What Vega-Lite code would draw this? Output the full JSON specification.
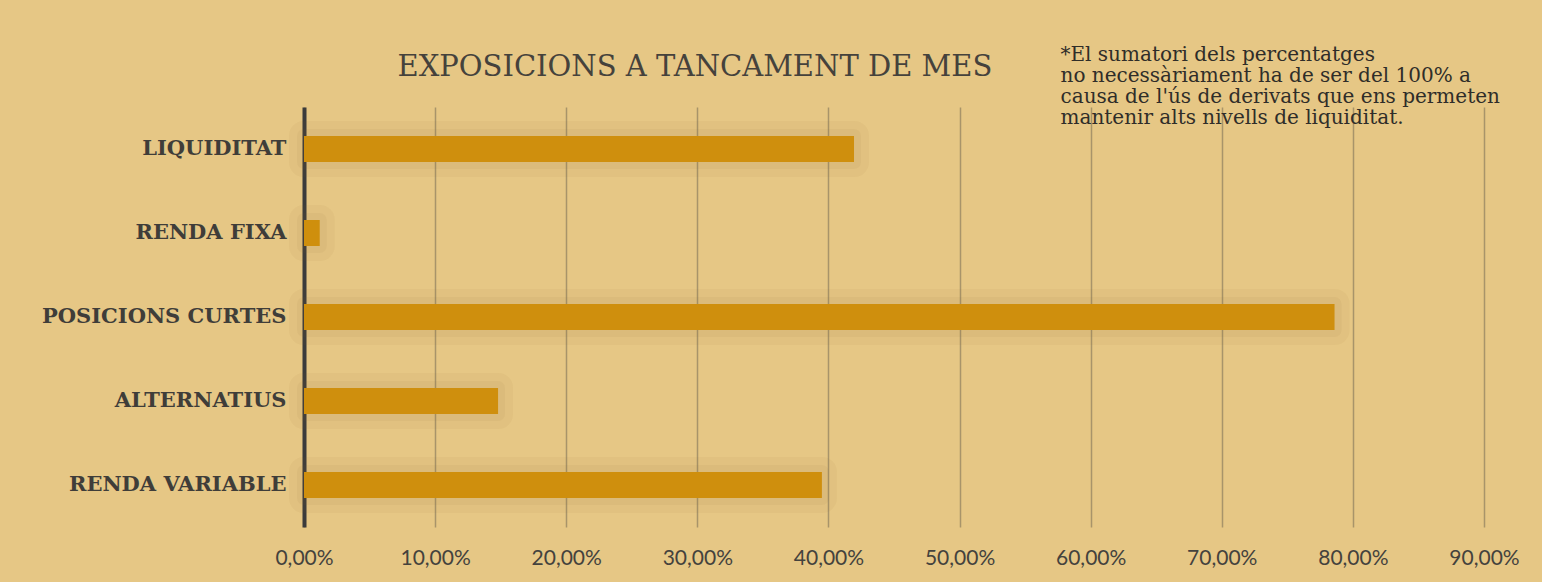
{
  "$schema": "https://vega.github.io/schema/vega-lite/v6.json",
  "width": 1180,
  "height": 420,
  "autosize": {"type": "none"},
  "padding": {"left": 304, "top": 107, "right": 58, "bottom": 55},
  "background": "#e6c785",
  "data": {
    "values": [
      {"categoria": "LIQUIDITAT", "valor": 0.4195},
      {"categoria": "RENDA FIXA", "valor": 0.012},
      {"categoria": "POSICIONS CURTES", "valor": 0.786},
      {"categoria": "ALTERNATIUS", "valor": 0.148},
      {"categoria": "RENDA VARIABLE", "valor": 0.395}
    ]
  },
  "config": {
    "view": {"stroke": null},
    "axis": {"ticks": false}
  },
  "encoding": {
    "y": {
      "field": "categoria",
      "type": "nominal",
      "sort": null,
      "scale": {"paddingInner": 0.69, "paddingOuter": 0.345},
      "axis": {
        "domainColor": "#3b3b3b",
        "domainWidth": 4,
        "labelFont": "DejaVu Serif",
        "labelFontWeight": "bold",
        "labelFontSize": 21,
        "labelColor": "#3f3d39",
        "labelPadding": 18,
        "labelLimit": 400,
        "grid": false,
        "title": "EXPOSICIONS A TANCAMENT DE MES",
        "titleFont": "DejaVu Serif",
        "titleFontWeight": "normal",
        "titleFontSize": 29,
        "titleColor": "#45423c",
        "titleAngle": 0,
        "titleAlign": "left",
        "titleBaseline": "alphabetic",
        "titleX": 93,
        "titleY": -32
      }
    },
    "x": {
      "field": "valor",
      "type": "quantitative",
      "scale": {"domain": [0, 0.9], "nice": false},
      "axis": {
        "values": [0, 0.1, 0.2, 0.3, 0.4, 0.5, 0.6, 0.7, 0.8, 0.9],
        "labelExpr": "replace(format(datum.value, '.2%'), '.', ',')",
        "labelFont": "Lato",
        "labelFontSize": 21,
        "labelColor": "#44423d",
        "labelPadding": 20,
        "labelFlush": false,
        "labelOverlap": false,
        "domain": false,
        "grid": true,
        "gridColor": "#a8946a",
        "gridWidth": 1.5,
        "title": ["*El sumatori dels percentatges", "no necessàriament ha de ser del 100% a", "causa de l'ús de derivats que ens permeten", "mantenir alts nivells de liquiditat."],
        "titleFont": "DejaVu Serif",
        "titleFontWeight": "normal",
        "titleFontSize": 20,
        "titleColor": "#2f2d29",
        "titleAlign": "left",
        "titleBaseline": "top",
        "titleLineHeight": 21,
        "titleX": 756,
        "titleY": -483,
        "titleAngle": 0
      }
    }
  },
  "layer": [
    {
      "mark": {"type": "bar", "fill": null, "stroke": "#8a6a30", "strokeOpacity": 0.05, "strokeWidth": 30, "strokeJoin": "round"}
    },
    {
      "mark": {"type": "bar", "fill": null, "stroke": "#8a6a30", "strokeOpacity": 0.06, "strokeWidth": 14, "strokeJoin": "round"}
    },
    {
      "mark": {"type": "bar", "color": "#cf8f0d"}
    }
  ]
}
